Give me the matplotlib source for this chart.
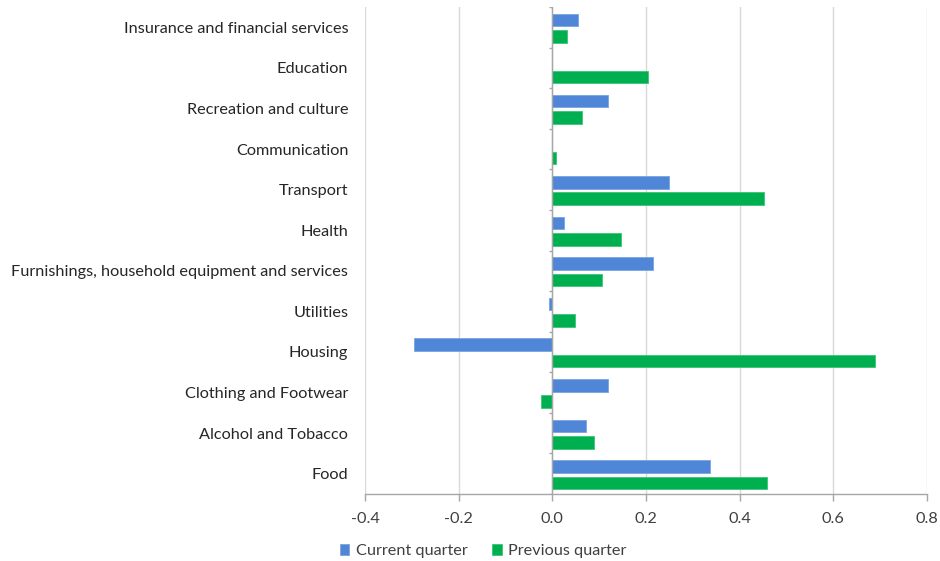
import numpy as np
import matplotlib
matplotlib.use("Agg")
import matplotlib.pyplot as plt

plt.rcParams['font.family'] = ['Lato', 'DejaVu Sans']

categories = [
    "Food",
    "Alcohol and Tobacco",
    "Clothing and Footwear",
    "Housing",
    "Utilities",
    "Furnishings, household equipment and services",
    "Health",
    "Transport",
    "Communication",
    "Recreation and culture",
    "Education",
    "Insurance and financial services",
]
current_quarter = [0.336, 0.071, 0.119, -0.296, -0.008, 0.216, 0.024, 0.249, 0.0, 0.119, 0.0, 0.055]
previous_quarter = [0.458, 0.089, -0.024, 0.689, 0.049, 0.106, 0.147, 0.451, 0.008, 0.064, 0.204, 0.032]
x_ticks = [-0.4, -0.2, 0.0, 0.2, 0.4, 0.6, 0.8]

blue = "#4F86D7"
green = "#00B050"
grid_col = "#D9D9D9"
axis_col = "#A6A6A6"

fig = plt.figure(figsize=(9.4, 5.61), dpi=100)
ax = fig.add_axes([365 / 940, 1 - 494 / 561, (927 - 365) / 940, (494 - 7) / 561])

y = np.arange(len(categories))
h = 0.31
ax.barh(y + 0.18, current_quarter, height=h, color=blue, edgecolor="#7AA3E0",
        linewidth=0.6, label="Current quarter", zorder=3)
ax.barh(y - 0.225, previous_quarter, height=h, color=green, edgecolor="#3CC476",
        linewidth=0.6, label="Previous quarter", zorder=3)

ax.set_xlim(-0.4, 0.8)
ax.set_ylim(-0.5, len(categories) - 0.5)
ax.set_xticks(x_ticks)
ax.set_xticklabels([f"{v:.1f}" for v in x_ticks], fontsize=11.7, color="#404040")
ax.set_yticks(y)
ax.set_yticklabels(categories, fontsize=11.7, color="#262626")
ax.tick_params(axis='y', length=0, pad=12)
ax.tick_params(axis='x', length=5, width=1, color=axis_col, pad=8, direction='out')

ax.grid(axis='x', color=grid_col, linewidth=1, zorder=0)
for side in ("top", "right", "left"):
    ax.spines[side].set_visible(False)
ax.spines['bottom'].set_color(axis_col)
ax.spines['bottom'].set_linewidth(1)

# category axis drawn at zero with small boundary ticks
ax.axvline(0, color=axis_col, linewidth=1, zorder=4)
bounds = np.arange(-0.5, len(categories), 1.0)
ax.hlines(bounds, -0.008, 0, color=axis_col, linewidth=1, zorder=4)

leg = fig.legend(loc='lower left', bbox_to_anchor=(325 / 940, -0.021), ncol=2, frameon=False,
                 fontsize=11.7, handlelength=0.6, handleheight=0.6, handletextpad=0.4,
                 columnspacing=1.5, labelcolor="#404040")

fig.savefig("out.png", dpi=100, facecolor="white")
